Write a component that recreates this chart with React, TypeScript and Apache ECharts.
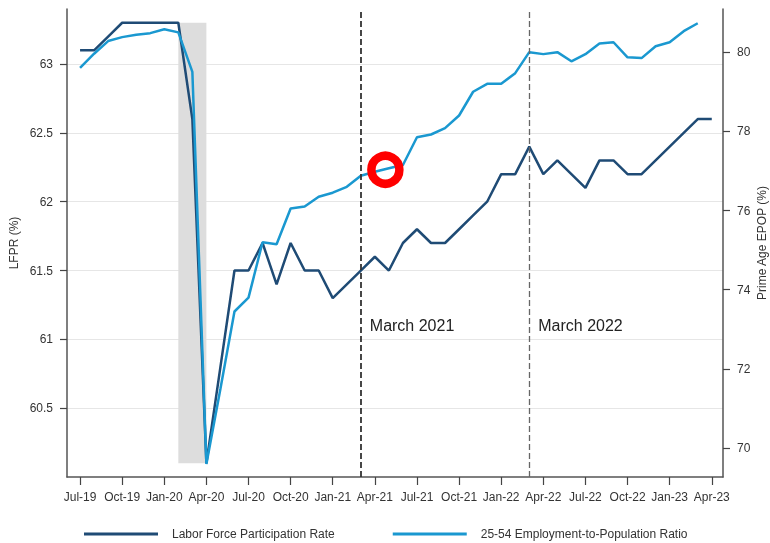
import React, { useEffect, useRef } from "react";
import * as echarts from "echarts";

const months = [
  "Jul-19", "Aug-19", "Sep-19", "Oct-19", "Nov-19", "Dec-19",
  "Jan-20", "Feb-20", "Mar-20", "Apr-20", "May-20", "Jun-20", "Jul-20", "Aug-20", "Sep-20", "Oct-20", "Nov-20", "Dec-20",
  "Jan-21", "Feb-21", "Mar-21", "Apr-21", "May-21", "Jun-21", "Jul-21", "Aug-21", "Sep-21", "Oct-21", "Nov-21", "Dec-21",
  "Jan-22", "Feb-22", "Mar-22", "Apr-22", "May-22", "Jun-22", "Jul-22", "Aug-22", "Sep-22", "Oct-22", "Nov-22", "Dec-22",
  "Jan-23", "Feb-23", "Mar-23", "Apr-23",
];

const lfpr = [
  63.1, 63.1, 63.2, 63.3, 63.3, 63.3,
  63.3, 63.3, 62.6, 60.1, 60.8, 61.5, 61.5, 61.7, 61.4, 61.7, 61.5, 61.5,
  61.3, 61.4, 61.5, 61.6, 61.5, 61.7, 61.8, 61.7, 61.7, 61.8, 61.9, 62.0,
  62.2, 62.2, 62.4, 62.2, 62.3, 62.2, 62.1, 62.3, 62.3, 62.2, 62.2, 62.3,
  62.4, 62.5, 62.6, 62.6,
];

const epop: (number | null)[] = [
  79.6, 79.96, 80.28, 80.38, 80.44, 80.48,
  80.58, 80.5, 79.5, 69.6, 71.5, 73.45, 73.8, 75.2, 75.15, 76.05, 76.1, 76.35,
  76.45, 76.6, 76.88, 76.98, 77.07, 77.15, 77.85, 77.92, 78.08, 78.4, 79.0, 79.2,
  79.2, 79.47, 80.0, 79.95, 80.0, 79.77, 79.95, 80.22, 80.25, 79.87, 79.85, 80.15,
  80.25, 80.53, 80.73, null,
];

const tickMonths = [
  "Jul-19", "Oct-19", "Jan-20", "Apr-20", "Jul-20", "Oct-20", "Jan-21", "Apr-21",
  "Jul-21", "Oct-21", "Jan-22", "Apr-22", "Jul-22", "Oct-22", "Jan-23", "Apr-23",
];
const lfprTicks = [60.5, 61, 61.5, 62, 62.5, 63];
const epopTicks = [70, 72, 74, 76, 78, 80];

const eventMonths = ["Mar-21", "Mar-22"];
const eventLabels = ["March 2021", "March 2022"];
const eventLabelLevel = 61.1;
const recessionMonths = ["Feb-20", "Apr-20"];
const highlightPoint = [21.75, 77.03];

const seriesNames = ["Labor Force Participation Rate", "25-54 Employment-to-Population Ratio"];

export default function App() {
  const ref = useRef<HTMLDivElement>(null);
  useEffect(() => {
    const chart = echarts.init(ref.current!, null, { renderer: "svg" });
    const idx = (m: string) => months.indexOf(m);
    const font = "'Liberation Sans', Arial, sans-serif";
    const tickIdx = tickMonths.map(idx);
    const dark = "#1f4b75";
    const light = "#1a98d0";

    chart.setOption({
      animation: false,
      textStyle: { fontFamily: font },
      grid: { left: 67, right: 47, top: 9, bottom: 66, outerBoundsMode: "none" },
      xAxis: {
        type: "value",
        min: -0.93,
        max: 45.8,
        axisLine: { show: true, onZero: false, lineStyle: { color: "#555", width: 1.5 } },
        axisTick: { show: true, length: 8, customValues: tickIdx, lineStyle: { color: "#444", width: 1.2 } },
        axisLabel: {
          customValues: tickIdx,
          formatter: (v: number) => months[Math.round(v)],
          margin: 14,
          fontSize: 12,
          color: "#333",
          fontFamily: font,
        },
        splitLine: { show: false },
      },
      yAxis: [
        {
          type: "value",
          position: "left",
          min: 60,
          max: 63.4,
          axisLine: { show: true, onZero: false, lineStyle: { color: "#555", width: 1.5 } },
          axisTick: { show: true, length: 7, customValues: lfprTicks, lineStyle: { color: "#444", width: 1.2 } },
          axisLabel: { customValues: lfprTicks, margin: 14, fontSize: 12, color: "#333", fontFamily: font },
          splitLine: { show: true, lineStyle: { color: "#e6e6e6", width: 1 } },
          name: "LFPR (%)",
          nameLocation: "middle",
          nameGap: 47,
          nameRotate: 90,
          nameMoveOverlap: false,
          nameTextStyle: { fontSize: 12, color: "#333", fontFamily: font },
        },
        {
          type: "value",
          position: "right",
          min: 69.27,
          max: 81.09,
          axisLine: { show: true, onZero: false, lineStyle: { color: "#555", width: 1.5 } },
          axisTick: { show: true, length: 7, customValues: epopTicks, lineStyle: { color: "#444", width: 1.2 } },
          axisLabel: { customValues: epopTicks, margin: 14, fontSize: 12, color: "#333", fontFamily: font },
          splitLine: { show: false },
          name: "Prime Age EPOP (%)",
          nameLocation: "middle",
          nameGap: 33,
          nameRotate: 90,
          nameMoveOverlap: false,
          nameTextStyle: { fontSize: 12, color: "#333", fontFamily: font },
        },
      ],
      legend: {
        left: 84,
        top: 528,
        padding: 0,
        itemGap: 58,
        itemWidth: 74,
        itemHeight: 3,
        icon: "rect",
        data: seriesNames,
        textStyle: { fontSize: 12, color: "#333", fontFamily: font, padding: [0, 0, 0, 9] },
      },
      series: [
        {
          name: seriesNames[0],
          type: "line",
          yAxisIndex: 0,
          data: lfpr.map((v, i) => [i, v]),
          showSymbol: false,
          symbol: "none",
          lineStyle: { color: dark, width: 2.5 },
          itemStyle: { color: dark },
          z: 3,
          markArea: {
            silent: true,
            itemStyle: { color: "#dddddd" },
            data: [[
              { coord: [idx(recessionMonths[0]), Math.max(...lfpr)] },
              { coord: [idx(recessionMonths[1]), Math.min(...lfpr)] },
            ]],
          },
          markLine: {
            silent: true,
            symbol: ["none", "none"],
            label: { show: false },
            data: [
              { xAxis: idx(eventMonths[0]), lineStyle: { color: "#333", width: 1.8, type: [6, 3] } },
              { xAxis: idx(eventMonths[1]), lineStyle: { color: "#666", width: 1.3, type: [6, 3] } },
            ],
          },
          markPoint: {
            silent: true,
            symbol: "circle",
            symbolSize: 0,
            itemStyle: { color: "rgba(0,0,0,0)" },
            label: {
              show: true,
              position: "right",
              distance: 9,
              formatter: (p: any) => p.name,
              fontSize: 16,
              color: "#222",
              fontFamily: font,
            },
            data: eventMonths.map((m, k) => ({ name: eventLabels[k], coord: [idx(m), eventLabelLevel] })),
          },
        },
        {
          name: seriesNames[1],
          type: "line",
          yAxisIndex: 1,
          data: epop.map((v, i) => [i, v]).filter((d) => d[1] != null),
          showSymbol: false,
          symbol: "none",
          lineStyle: { color: light, width: 2.5 },
          itemStyle: { color: light },
          z: 3,
          markPoint: {
            silent: true,
            symbol: "circle",
            symbolSize: 28,
            itemStyle: { color: "rgba(0,0,0,0)", borderColor: "#ff0000", borderWidth: 8.5 },
            label: { show: false },
            data: [{ coord: highlightPoint }],
          },
        },
      ],
    });
    return () => chart.dispose();
  }, []);
  return <div ref={ref} style={{ position: "fixed", left: 0, top: 0, width: 770, height: 543 }} />;
}
